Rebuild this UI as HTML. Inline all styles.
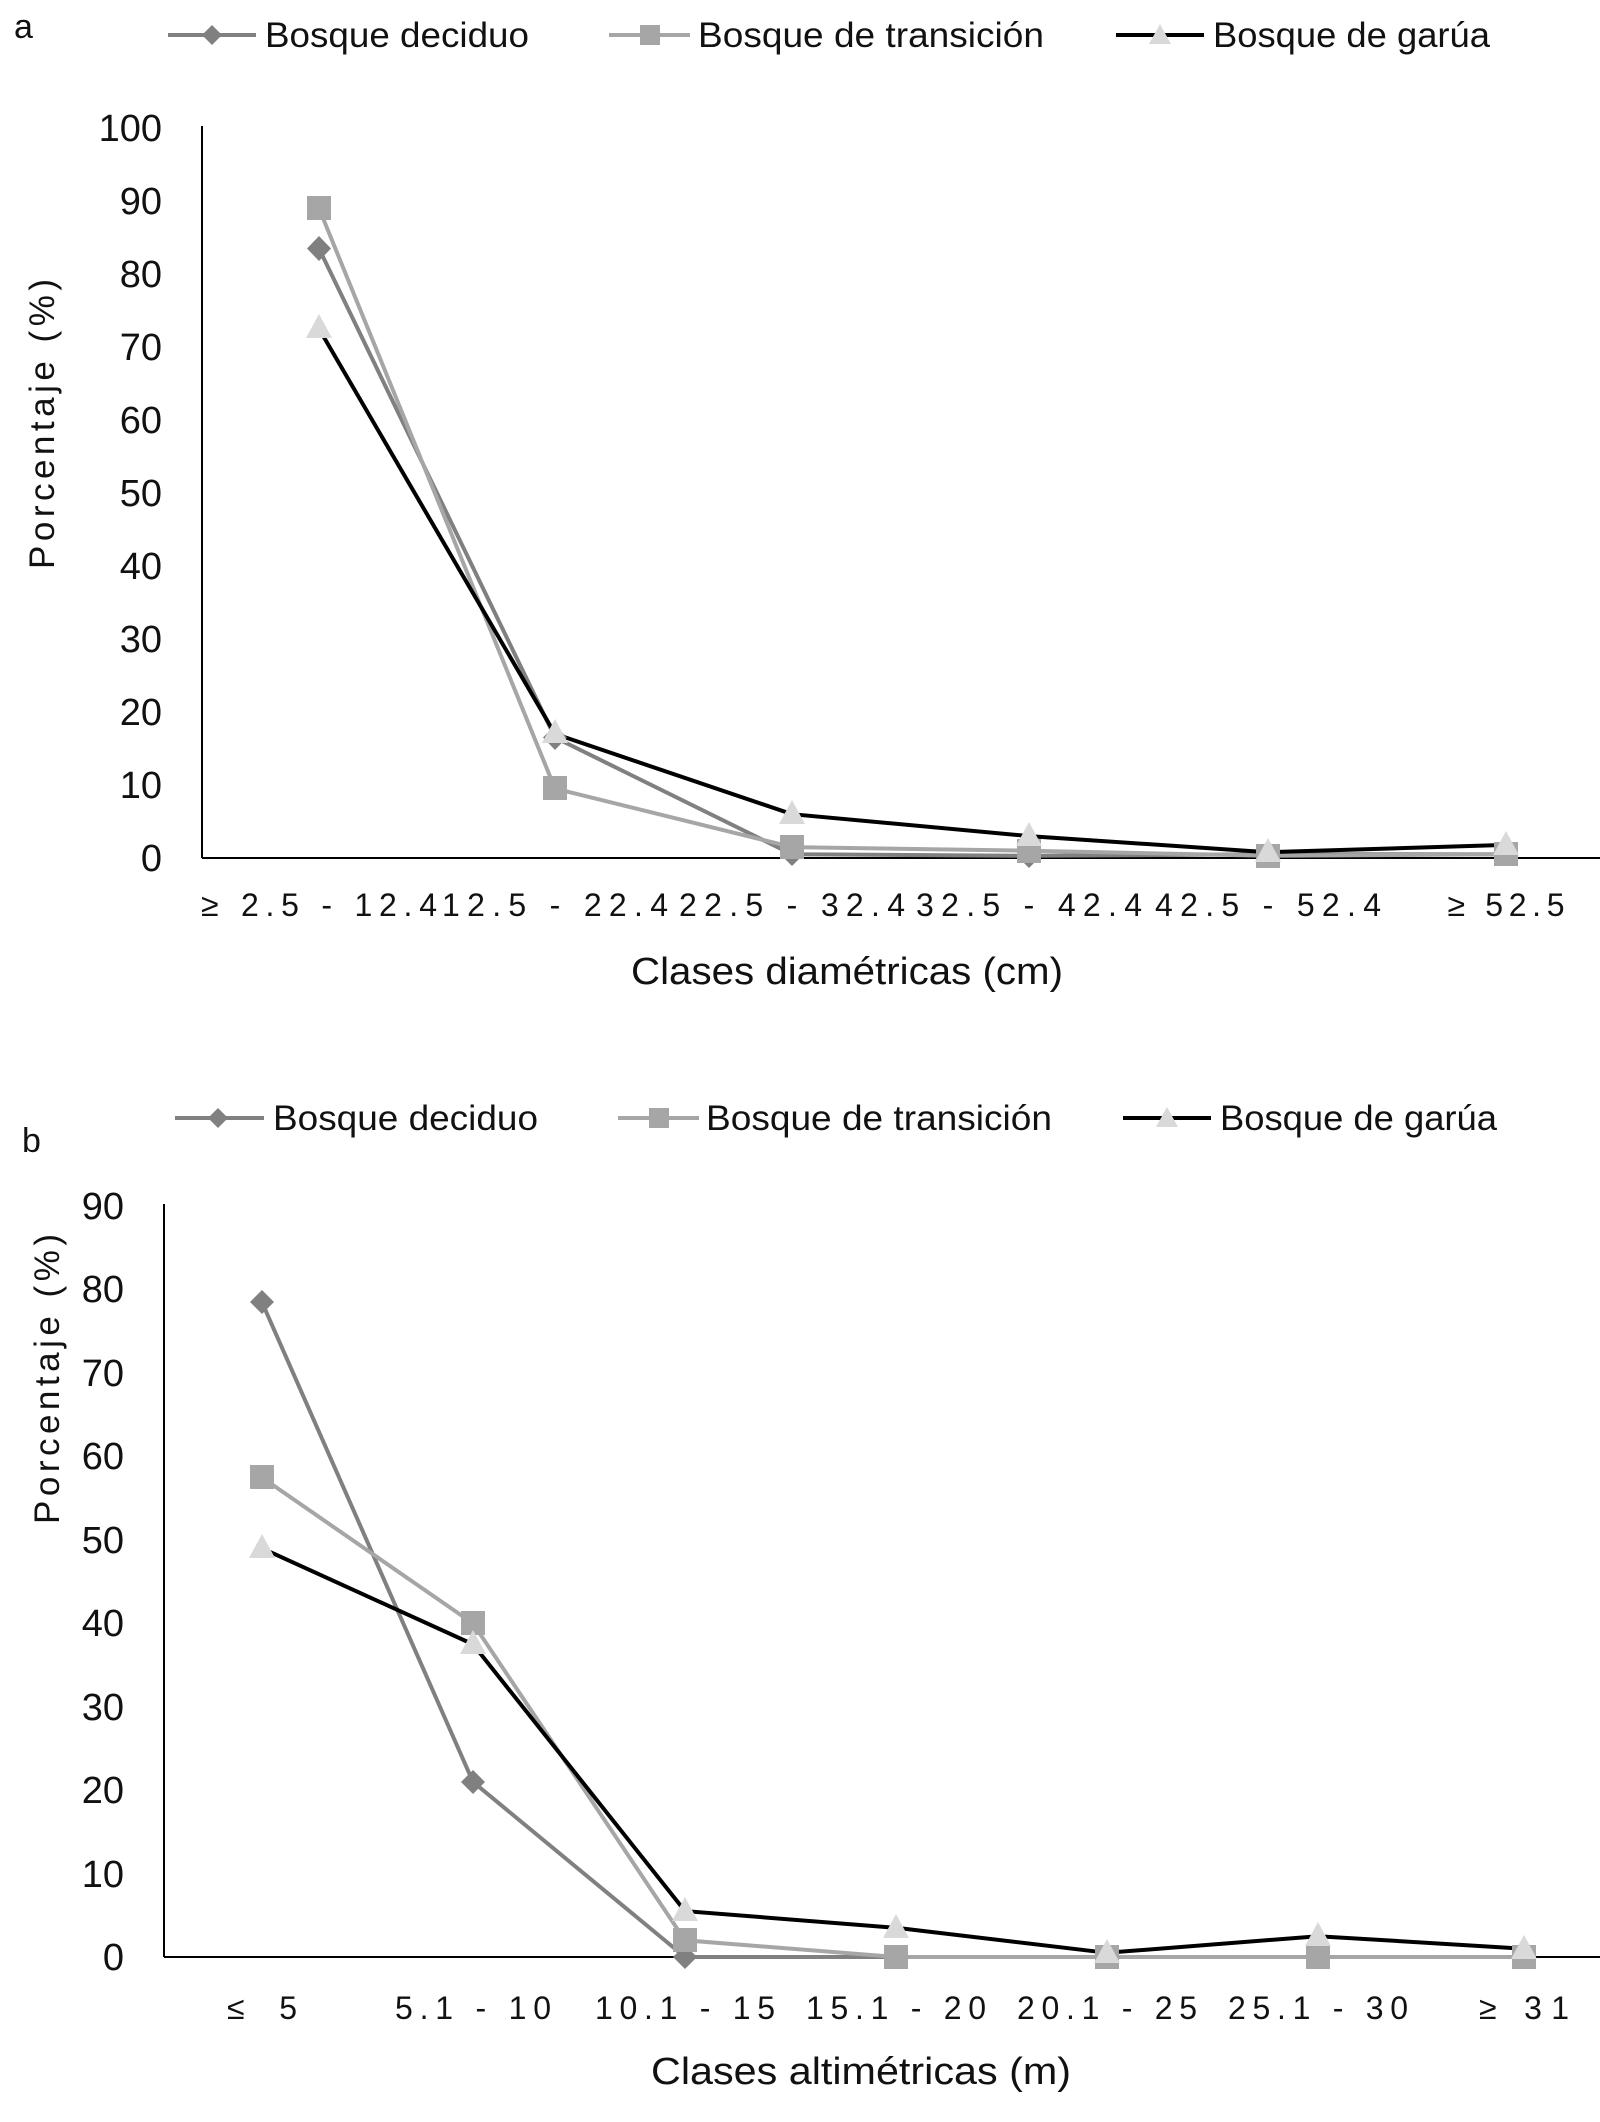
<!DOCTYPE html>
<html><head><meta charset="utf-8"><style>
html,body{margin:0;padding:0;background:#fff;}
svg{display:block;}
text{font-family:"Liberation Sans Narrow","Liberation Sans",sans-serif;fill:#111;}
</style></head><body>
<svg width="1600" height="2122" viewBox="0 0 1600 2122" xmlns="http://www.w3.org/2000/svg">
<!-- Chart a -->
<text x="14" y="38" font-size="34">a</text>
<g font-size="35">
<line x1="168" y1="35" x2="256" y2="35" stroke="#808080" stroke-width="4"/>
<polygon points="212,25 222,35 212,45 202,35" fill="#808080"/>
<text x="265" y="47" textLength="264" lengthAdjust="spacingAndGlyphs">Bosque deciduo</text>
<line x1="609" y1="35" x2="690" y2="35" stroke="#a6a6a6" stroke-width="4"/>
<rect x="640" y="25" width="20" height="20" fill="#a6a6a6"/>
<text x="698" y="47" textLength="346" lengthAdjust="spacingAndGlyphs">Bosque de transición</text>
<line x1="1116" y1="35" x2="1204" y2="35" stroke="#000" stroke-width="4"/>
<polygon points="1160,24 1171,44 1149,44" fill="#d9d9d9"/>
<text x="1213" y="47" textLength="277" lengthAdjust="spacingAndGlyphs">Bosque de garúa</text>
</g>
<line x1="202" y1="126" x2="202" y2="858" stroke="#000" stroke-width="2"/>
<line x1="202" y1="858" x2="1600" y2="858" stroke="#000" stroke-width="2"/>
<g font-size="38" text-anchor="end">
<text x="162" y="141">100</text><text x="162" y="214">90</text><text x="162" y="287">80</text>
<text x="162" y="360">70</text><text x="162" y="433">60</text><text x="162" y="506">50</text>
<text x="162" y="579">40</text><text x="162" y="652">30</text><text x="162" y="725">20</text>
<text x="162" y="798">10</text><text x="162" y="871">0</text>
</g>
<text transform="translate(54,424) rotate(-90)" font-size="35" text-anchor="middle" textLength="290" lengthAdjust="spacing">Porcentaje (%)</text>
<g font-size="32" text-anchor="middle">
<text x="319" y="916" textLength="236" lengthAdjust="spacing">≥ 2.5 - 12.4</text><text x="555" y="916" textLength="226" lengthAdjust="spacing">12.5 - 22.4</text>
<text x="792" y="916" textLength="226" lengthAdjust="spacing">22.5 - 32.4</text><text x="1029" y="916" textLength="226" lengthAdjust="spacing">32.5 - 42.4</text>
<text x="1268" y="916" textLength="226" lengthAdjust="spacing">42.5 - 52.4</text><text x="1506" y="916" textLength="117" lengthAdjust="spacing">≥ 52.5</text>
</g>
<text x="847" y="984" font-size="38" text-anchor="middle" textLength="432" lengthAdjust="spacingAndGlyphs">Clases diamétricas (cm)</text>
<polyline points="319,248.5 555,737.5 792,854.3 1029,855.8 1268,854.3 1506,854.3" fill="none" stroke="#808080" stroke-width="4"/>
<polyline points="319,208.3 555,788.6 792,847.1 1029,850.7 1268,855.8 1506,854.3" fill="none" stroke="#a6a6a6" stroke-width="4"/>
<polyline points="319,328.8 555,733.9 792,814.2 1029,836.1 1268,852.2 1506,844.9" fill="none" stroke="#000" stroke-width="4"/>
<g fill="#808080">
<polygon points="319,236 331,248.5 319,261 307,248.5"/><polygon points="555,725 567,737.5 555,750 543,737.5"/>
<polygon points="792,842 804,854 792,866 780,854"/><polygon points="1029,844 1041,856 1029,868 1017,856"/>
<polygon points="1268,842 1280,854 1268,866 1256,854"/><polygon points="1506,842 1518,854 1506,866 1494,854"/>
</g>
<g fill="#a6a6a6">
<rect x="307" y="196" width="24" height="24"/><rect x="543" y="776" width="24" height="24"/>
<rect x="780" y="835" width="24" height="24"/><rect x="1017" y="839" width="24" height="24"/>
<rect x="1256" y="844" width="24" height="24"/><rect x="1494" y="842" width="24" height="24"/>
</g>
<g fill="#d9d9d9">
<polygon points="319,314 332,338 306,338"/><polygon points="555,719 568,743 542,743"/>
<polygon points="792,800 805,824 779,824"/><polygon points="1029,822 1042,846 1016,846"/>
<polygon points="1268,838 1281,862 1255,862"/><polygon points="1506,831 1519,855 1493,855"/>
</g>
<!-- Chart b -->
<text x="22" y="1152" font-size="34">b</text>
<g font-size="35">
<line x1="175" y1="1118" x2="264" y2="1118" stroke="#808080" stroke-width="4"/>
<polygon points="218,1108 228,1118 218,1128 208,1118" fill="#808080"/>
<text x="273" y="1130" textLength="265" lengthAdjust="spacingAndGlyphs">Bosque deciduo</text>
<line x1="618" y1="1118" x2="699" y2="1118" stroke="#a6a6a6" stroke-width="4"/>
<rect x="649" y="1108" width="20" height="20" fill="#a6a6a6"/>
<text x="706" y="1130" textLength="346" lengthAdjust="spacingAndGlyphs">Bosque de transición</text>
<line x1="1123" y1="1118" x2="1211" y2="1118" stroke="#000" stroke-width="4"/>
<polygon points="1167,1107 1178,1127 1156,1127" fill="#d9d9d9"/>
<text x="1220" y="1130" textLength="277" lengthAdjust="spacingAndGlyphs">Bosque de garúa</text>
</g>
<line x1="164" y1="1204" x2="164" y2="1957" stroke="#000" stroke-width="2"/>
<line x1="164" y1="1957" x2="1600" y2="1957" stroke="#000" stroke-width="2"/>
<g font-size="38" text-anchor="end">
<text x="124" y="1219">90</text><text x="124" y="1302">80</text><text x="124" y="1386">70</text>
<text x="124" y="1469">60</text><text x="124" y="1553">50</text><text x="124" y="1636">40</text>
<text x="124" y="1720">30</text><text x="124" y="1803">20</text><text x="124" y="1887">10</text>
<text x="124" y="1970">0</text>
</g>
<text transform="translate(59,1379) rotate(-90)" font-size="35" text-anchor="middle" textLength="290" lengthAdjust="spacing">Porcentaje (%)</text>
<g font-size="32" text-anchor="middle">
<text x="262" y="2019" textLength="70" lengthAdjust="spacing">≤ 5</text><text x="473" y="2019" textLength="156" lengthAdjust="spacing">5.1 - 10</text>
<text x="685" y="2019" textLength="180" lengthAdjust="spacing">10.1 - 15</text><text x="896" y="2019" textLength="180" lengthAdjust="spacing">15.1 - 20</text>
<text x="1107" y="2019" textLength="180" lengthAdjust="spacing">20.1 - 25</text><text x="1318" y="2019" textLength="180" lengthAdjust="spacing">25.1 - 30</text>
<text x="1524" y="2019" textLength="90" lengthAdjust="spacing">≥ 31</text>
</g>
<text x="861" y="2084" font-size="38" text-anchor="middle" textLength="420" lengthAdjust="spacingAndGlyphs">Clases altimétricas (m)</text>
<polyline points="262,1302.3 473,1781.9 685,1957 896,1957 1107,1957 1318,1957 1524,1957" fill="none" stroke="#808080" stroke-width="4"/>
<polyline points="262,1477.5 473,1623.4 685,1940.3 896,1957 1107,1957 1318,1957 1524,1957" fill="none" stroke="#a6a6a6" stroke-width="4"/>
<polyline points="262,1548.3 473,1644.3 685,1911.1 896,1927.8 1107,1952.8 1318,1936.2 1524,1948.7" fill="none" stroke="#000" stroke-width="4"/>
<g fill="#808080">
<polygon points="262,1290 274,1302 262,1314 250,1302"/><polygon points="473,1770 485,1782 473,1794 461,1782"/>
<polygon points="685,1945 697,1957 685,1969 673,1957"/><polygon points="896,1945 908,1957 896,1969 884,1957"/>
<polygon points="1107,1945 1119,1957 1107,1969 1095,1957"/><polygon points="1318,1945 1330,1957 1318,1969 1306,1957"/>
<polygon points="1524,1945 1536,1957 1524,1969 1512,1957"/>
</g>
<g fill="#a6a6a6">
<rect x="250" y="1465" width="24" height="24"/><rect x="461" y="1611" width="24" height="24"/>
<rect x="673" y="1928" width="24" height="24"/><rect x="884" y="1945" width="24" height="24"/>
<rect x="1095" y="1945" width="24" height="24"/><rect x="1306" y="1945" width="24" height="24"/>
<rect x="1512" y="1945" width="24" height="24"/>
</g>
<g fill="#d9d9d9">
<polygon points="262,1534 275,1558 249,1558"/><polygon points="473,1630 486,1654 460,1654"/>
<polygon points="685,1897 698,1921 672,1921"/><polygon points="896,1914 909,1938 883,1938"/>
<polygon points="1107,1939 1120,1963 1094,1963"/><polygon points="1318,1922 1331,1946 1305,1946"/>
<polygon points="1524,1935 1537,1959 1511,1959"/>
</g>
</svg>
</body></html>
